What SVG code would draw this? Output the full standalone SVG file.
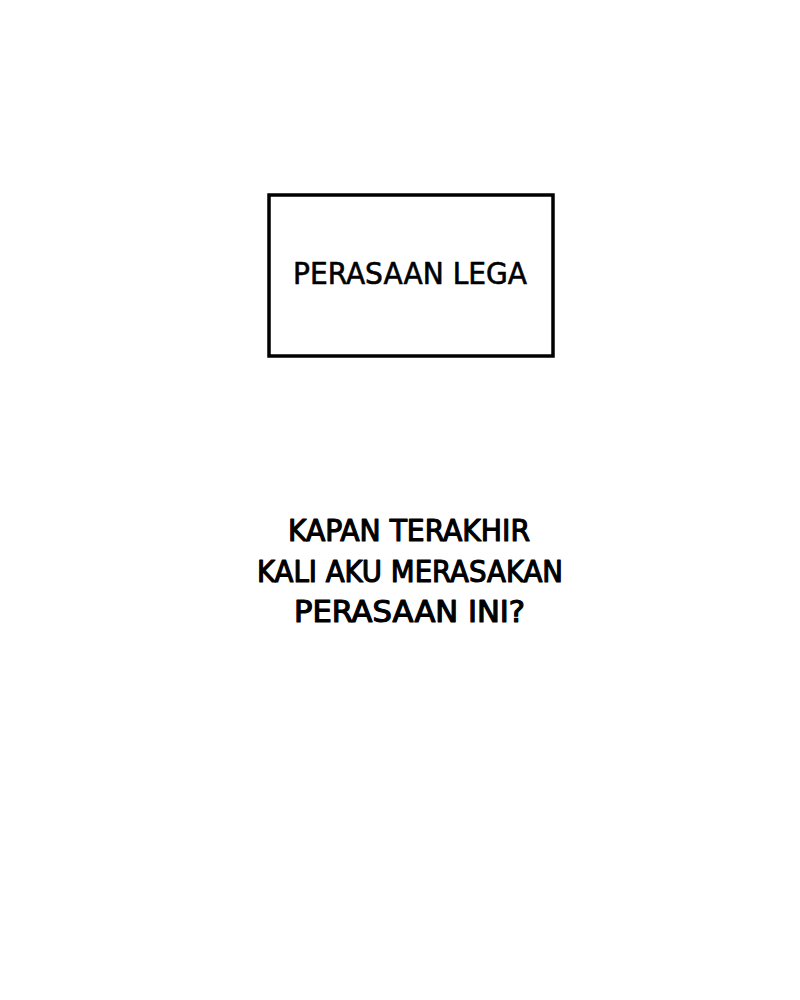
<svg xmlns="http://www.w3.org/2000/svg" width="800" height="1000" viewBox="0 0 800 1000">
<style>
.t{font-family:"DejaVu Sans Condensed","DejaVu Sans","Liberation Sans",sans-serif;fill:#000;text-anchor:middle;stroke:#000;stroke-linejoin:round}
.a{stroke-width:0.6}
.b{stroke-width:1.1}
</style>
<rect width="800" height="1000" fill="#fff"/>
<g id="node-box">
<rect x="269" y="195" width="284" height="161" fill="#fff" stroke="#000" stroke-width="3.5"/>
<text class="t a" x="410" y="284" font-size="31" textLength="234" lengthAdjust="spacingAndGlyphs">PERASAAN LEGA</text>
</g>
<g id="node-question">
<text class="t b" x="409" y="541" font-size="29.5" textLength="242" lengthAdjust="spacingAndGlyphs">KAPAN TERAKHIR</text>
<text class="t b" x="410" y="582" font-size="29.5" textLength="306" lengthAdjust="spacingAndGlyphs">KALI AKU MERASAKAN</text>
<text class="t b" x="409.5" y="622" font-size="29.5" textLength="231" lengthAdjust="spacingAndGlyphs">PERASAAN INI?</text>
</g>
<g id="connectors"/>
</svg>
